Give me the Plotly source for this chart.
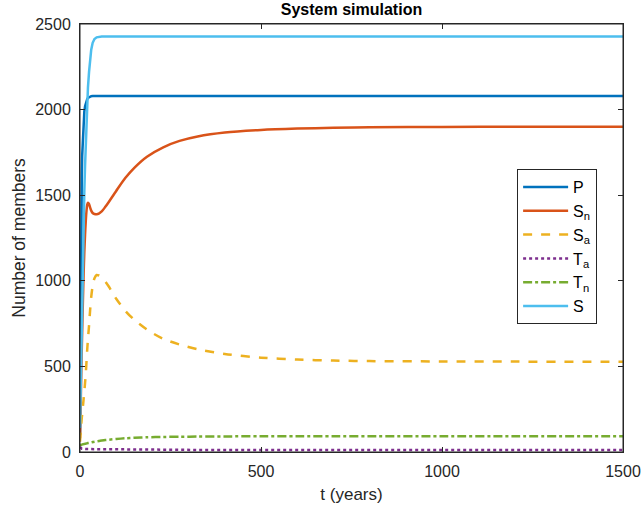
import plotly.graph_objects as go

t_years = [0, 1, 2, 3, 4, 5, 6, 8, 10, 12, 14, 16, 18, 20, 22, 25, 28, 31, 35, 40,
           46, 52, 60, 70, 80, 100, 125, 150, 185, 230, 275, 325, 400, 500, 600,
           700, 800, 1000, 1200, 1500]

P = [100, 600, 1000, 1280, 1480, 1620, 1730, 1860, 1940, 1990, 2020, 2040, 2053, 2062,
     2068, 2073, 2076, 2078, 2079, 2080, 2080, 2080, 2080, 2080, 2080, 2080, 2080, 2080,
     2080, 2080, 2080, 2080, 2080, 2080, 2080, 2080, 2080, 2080, 2080, 2080]

Sn = [80, 180, 290, 400, 510, 610, 700, 880, 1040, 1170, 1270, 1350, 1410, 1445, 1456,
      1448, 1428, 1410, 1396, 1390, 1389, 1393, 1405, 1432, 1462, 1525, 1600, 1660, 1725,
      1780, 1817, 1843, 1866, 1881, 1889, 1894, 1897, 1899, 1900, 1900]

Sa = [60, 90, 120, 150, 175, 200, 220, 265, 310, 355, 405, 460, 530, 600, 660, 740, 830,
      905, 970, 1015, 1034, 1031, 1020, 996, 965, 895, 825, 772, 715, 661, 628, 600, 573,
      551, 540, 534, 531, 529, 528, 527]

Ta = [30, 26, 23, 21, 20, 19, 19, 18, 18, 18, 17, 17, 17, 17, 17, 17, 17, 16, 16, 16,
      16, 16, 15, 15, 15, 15, 14, 14, 13, 13, 13, 12, 12, 12, 12, 11, 11, 11, 11, 11]

Tn = [41, 41, 42, 42, 43, 43, 44, 45, 46, 47, 48, 49, 50, 51, 52, 53, 55, 56, 58, 60,
      62, 64, 67, 70, 72, 76, 80, 83, 86, 88, 89, 90, 91, 92, 92, 92, 92, 92, 92, 92]

S = [140, 270, 410, 550, 685, 810, 920, 1145, 1350, 1525, 1675, 1810, 1940, 2045, 2130,
     2220, 2300, 2350, 2390, 2412, 2422, 2426, 2427, 2427, 2427, 2427, 2427, 2427, 2427,
     2427, 2427, 2427, 2427, 2427, 2427, 2427, 2427, 2427, 2427, 2427]

series = [
    ("P", P, "#0072BD", "solid", "linear"),
    ("S<sub>n</sub>", Sn, "#D95319", "solid", "spline"),
    ("S<sub>a</sub>", Sa, "#EDB120", "dash", "spline"),
    ("T<sub>a</sub>", Ta, "#7E2F8E", "dot", "linear"),
    ("T<sub>n</sub>", Tn, "#77AC30", "dashdot", "spline"),
    ("S", S, "#4DBEEE", "solid", "linear"),
]

FONT = "Liberation Sans, Arial, Helvetica, sans-serif"
AX = "#262626"

fig = go.Figure()
for name, vals, color, dash, shape in series:
    line = dict(color=color, width=2.5, dash=dash, shape=shape)
    if shape == "spline":
        line["smoothing"] = 0.8
    fig.add_trace(go.Scatter(x=t_years, y=vals, mode="lines", name=name, line=line))

axis_common = dict(showgrid=False, zeroline=False, showline=True, linecolor=AX,
                   linewidth=1, mirror="ticks", ticks="inside", ticklen=5,
                   tickcolor=AX, automargin=False, ticklabelstandoff=5,
                   tickfont=dict(family=FONT, size=16, color=AX))

fig.update_layout(
    width=644, height=510,
    margin=dict(l=80, r=21, t=24, b=58),
    plot_bgcolor="white", paper_bgcolor="white",
    title=dict(text="<b>System simulation</b>", x=0.5458, xanchor="center",
               y=0.992, yanchor="top",
               font=dict(family=FONT, size=16, color="black")),
    xaxis=dict(range=[0, 1500], tickvals=[0, 500, 1000, 1500],
               title=dict(text="t (years)", font=dict(family=FONT, size=17, color=AX),
                          standoff=8),
               **axis_common),
    yaxis=dict(range=[0, 2500], tickvals=[0, 500, 1000, 1500, 2000, 2500],
               title=dict(text="Number of members", font=dict(family=FONT, size=17.5, color=AX),
                          standoff=5),
               **axis_common),
    legend=dict(x=0.805, y=0.661, xanchor="left", yanchor="top",
                bordercolor=AX, borderwidth=1, bgcolor="white",
                font=dict(family=FONT, size=16, color="black"),
                itemwidth=45, tracegroupgap=0),
    showlegend=True,
    shapes=[dict(type="rect", xref="paper", yref="paper", x0=0, x1=1, y0=0, y1=1,
                 line=dict(color=AX, width=1), layer="above")],
)

fig.write_html("out.html", config={"displayModeBar": False},
               post_script="document.body.style.margin='0px';document.body.style.padding='0px';")
